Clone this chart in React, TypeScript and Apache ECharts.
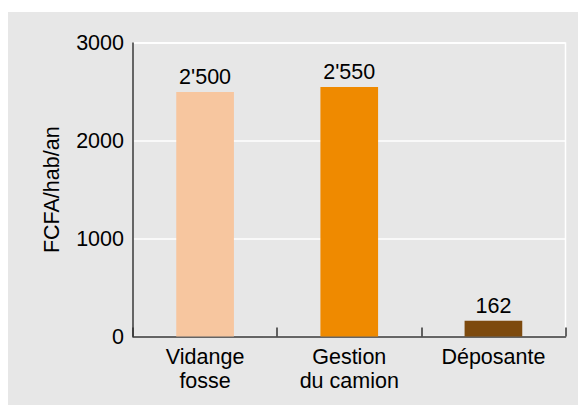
import React, { useEffect, useRef } from "react";
import * as echarts from "echarts";

const categories = ["Vidange\nfosse", "Gestion\ndu camion", "Déposante"];
const values = [2500, 2550, 162];
const barColors = ["#F7C69F", "#EF8A00", "#7D4A0E"];
const yTicks = [0, 1000, 2000, 3000];
const yAxisName = "FCFA/hab/an";

const fmt = (v: number) => String(v).replace(/\B(?=(\d{3})+(?!\d))/g, "'");

export default function App() {
  const ref = useRef<HTMLDivElement>(null);
  useEffect(() => {
    if (!ref.current) return;
    const chart = echarts.init(ref.current, undefined, { renderer: "svg" });
    const font = "Liberation Sans, Arial, sans-serif";
    chart.setOption({
      animation: false,
      backgroundColor: "#e7e7e7",
      textStyle: { fontFamily: font },
      grid: {
        left: 125,
        right: 12.5,
        top: 31,
        bottom: 68.5,
        show: true,
        borderColor: "#ffffff",
        borderWidth: 1.5,
        backgroundColor: "transparent",
      },
      xAxis: {
        type: "category",
        data: categories,
        axisLine: { show: true, lineStyle: { color: "#333", width: 1.5 } },
        axisTick: { show: true, inside: true, length: 9, alignWithLabel: false, lineStyle: { color: "#333", width: 1.5 } },
        axisLabel: { color: "#000", fontSize: 21.5, fontFamily: font, lineHeight: 24, margin: 8 },
        splitLine: { show: false },
      },
      yAxis: {
        type: "value",
        min: yTicks[0],
        max: yTicks[yTicks.length - 1],
        interval: 1000,
        name: yAxisName,
        nameLocation: "middle",
        nameGap: 70,
        nameTextStyle: { color: "#000", fontSize: 21.5, fontFamily: font },
        axisLine: { show: true, lineStyle: { color: "#333", width: 1.5 } },
        axisTick: { show: false },
        axisLabel: { color: "#000", fontSize: 21.5, fontFamily: font, margin: 9, formatter: (v: number) => String(v) },
        splitLine: { show: true, lineStyle: { color: "#ffffff", width: 1.5 } },
      },
      series: [
        {
          type: "bar",
          barWidth: "40%",
          data: values.map((v, i) => ({ value: v, itemStyle: { color: barColors[i] } })),
          label: {
            show: true,
            position: "top",
            distance: 4,
            color: "#000",
            fontSize: 21.5,
            fontFamily: font,
            formatter: (p: any) => fmt(p.value),
          },
        },
      ],
    });
    return () => chart.dispose();
  }, []);
  return (
    <div
      ref={ref}
      style={{ position: "fixed", left: 8, top: 12, width: 570, height: 393 }}
    />
  );
}
